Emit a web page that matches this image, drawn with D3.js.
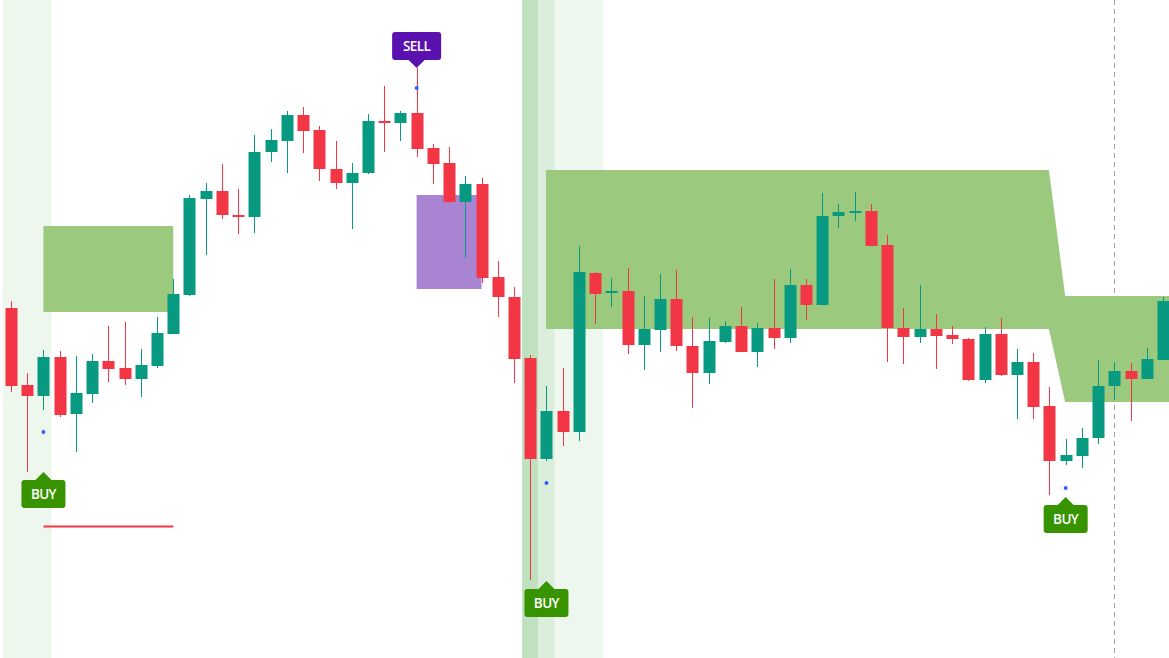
<!DOCTYPE html>
<html><head><meta charset="utf-8">
<script src="https://cdn.jsdelivr.net/npm/d3@7"></script>
<style>html,body{margin:0;padding:0;background:#fff;overflow:hidden}svg{display:block}</style>
</head><body>
<svg id="c" width="1169" height="658"></svg>
<script>
// Candle data (index, open, high, low, close)
const opens  = [692,615,604,643,586,606,639,632,621,634,666,705,801,809,785,783,848,859,885,870,831,817,827,879,877,887,852,837,798,816,723,703,642,541,589,568,727,707,709,655,670,701,654,627,658,674,648,672,662,715,695,784,787,789,755,672,663,671,665,661,620,666,625,638,594,539,544,562,614,629,621,640];
const highs  = [699,627,650,649,644,646,674,678,651,683,721,805,817,836,811,865,871,889,893,874,859,837,886,914,889,932,856,853,824,822,739,713,645,614,632,754,728,722,732,704,726,730,683,682,679,693,677,721,731,721,807,796,808,796,765,692,715,686,674,662,673,682,651,647,613,561,572,640,638,637,652,703];
const lows   = [608,528,590,583,548,597,618,615,603,632,666,704,745,781,766,767,838,827,847,819,811,771,826,848,859,843,816,797,742,717,683,617,420,539,554,559,676,693,646,630,648,649,592,616,657,648,633,651,657,680,695,772,779,754,638,636,657,631,656,619,617,624,581,581,505,535,532,556,600,579,621,640];
const closes = [614,604,643,585,607,639,631,621,635,667,706,802,809,785,783,848,860,885,869,831,817,827,879,878,887,851,836,798,816,722,703,641,541,589,568,728,706,709,655,671,701,654,627,659,674,648,672,662,715,695,784,788,789,754,672,663,671,664,661,620,666,625,638,593,539,545,562,614,629,621,641,699];

// Supply/demand zone (per candle index)
const zoneIdx    = [33,34,35,36,37,38,39,40,41,42,43,44,45,46,47,48,49,50,51,52,53,54,55,56,57,58,59,60,61,62,63,64,65,66,67,68,69,70,71,72];
const zoneTop    = [830,830,830,830,830,830,830,830,830,830,830,830,830,830,830,830,830,830,830,830,830,830,830,830,830,830,830,830,830,830,830,830,704,704,704,704,704,704,704,704];
const zoneBottom = [671,671,671,671,671,671,671,671,671,671,671,671,671,671,671,671,671,671,671,671,671,671,671,671,671,671,671,671,671,671,671,671,598,598,598,598,598,598,598,598];

// Boxes: [startIdx, endIdx, top, bottom]
const greenBox  = [2, 10, 774, 688];
const purpleBox = [25, 29, 805, 711];
// Horizontal level line: [startIdx, endIdx, price]
const redLevel  = [2, 10, 474];

// Background highlight bands: [fromIdx, toIdx, kind]
const bandFrom = [-0.5, 31.5, 31.5, 32.5];
const bandTo   = [2.5, 36.5, 32.5, 33.5];
const bandKind = ["light","light","dark","mid"];

// Signals
const sigIdx   = [2, 25, 33, 65];
const sigText  = ["BUY","SELL","BUY","BUY"];
const sigDot   = [568, 912, 517, 512];
const sigTip   = [528, 932, 419, 503];

// Dashed vertical marker index
const cursorIdx = 68;

const W = 1169, H = 658;
const svg = d3.select("#c");
const x = d3.scaleLinear().domain([0, 71]).range([11, 1163]);
const y = d3.scaleLinear().domain([342, 1000]).range([H, 0]);
const bodyW = 12;

const UP = "#089981", DOWN = "#f23645";
const bandColor = {light:"#edf7ee", dark:"#bfe1c0", mid:"#daeedb"};

// bands
svg.append("g").selectAll("rect").data(bandFrom.map((f,i)=>({f, t:bandTo[i], k:bandKind[i]})))
  .join("rect")
  .attr("x", d=>x(d.f)).attr("width", d=>x(d.t)-x(d.f))
  .attr("y", 0).attr("height", H)
  .attr("fill", d=>bandColor[d.k]);

// dashed cursor line
svg.append("line")
  .attr("x1", Math.round(x(cursorIdx))+0.5).attr("x2", Math.round(x(cursorIdx))+0.5)
  .attr("y1", 0).attr("y2", H)
  .attr("stroke", "#9e9e9e").attr("stroke-width", 1).attr("stroke-dasharray", "5,4");

// green box
svg.append("rect")
  .attr("x", x(greenBox[0])).attr("width", x(greenBox[1]) - x(greenBox[0]))
  .attr("y", y(greenBox[2])).attr("height", y(greenBox[3]) - y(greenBox[2]))
  .attr("fill", "#9bca7f");

// zone area
const zoneData = zoneIdx.map((d,i)=>({i:d, t:zoneTop[i], b:zoneBottom[i]}));
svg.append("path").datum(zoneData)
  .attr("d", d3.area().x(d=>x(d.i)-0.5).y0(d=>y(d.b)).y1(d=>y(d.t)))
  .attr("fill", "#9bca7f");

// purple box
svg.append("rect")
  .attr("x", x(purpleBox[0])).attr("width", x(purpleBox[1]) - x(purpleBox[0]))
  .attr("y", y(purpleBox[2])).attr("height", y(purpleBox[3]) - y(purpleBox[2]))
  .attr("fill", "#a884d2");

// red level
svg.append("line")
  .attr("x1", x(redLevel[0])).attr("x2", x(redLevel[1]))
  .attr("y1", Math.round(y(redLevel[2]))+0.5).attr("y2", Math.round(y(redLevel[2]))+0.5)
  .attr("stroke", DOWN).attr("stroke-width", 2);

// candles
const candles = opens.map((o,i)=>({i, o, h:highs[i], l:lows[i], c:closes[i]}));
const cg = svg.append("g").selectAll("g").data(candles).join("g");
cg.append("line")
  .attr("x1", d=>Math.round(x(d.i))+0.5).attr("x2", d=>Math.round(x(d.i))+0.5)
  .attr("y1", d=>y(d.h)).attr("y2", d=>y(d.l))
  .attr("stroke", d=>d.c>=d.o?UP:DOWN).attr("stroke-width", 1);
cg.append("rect")
  .attr("x", d=>Math.round(x(d.i)) - bodyW/2 + 0.5).attr("width", bodyW)
  .attr("y", d=>y(Math.max(d.o,d.c)))
  .attr("height", d=>Math.max(2, y(Math.min(d.o,d.c)) - y(Math.max(d.o,d.c))))
  .attr("fill", d=>d.c>=d.o?UP:DOWN);

// signal dots
const sigs = sigIdx.map((d,i)=>({i:d, t:sigText[i], dot:sigDot[i], tip:sigTip[i]}));
svg.append("g").selectAll("circle").data(sigs).join("circle")
  .attr("cx", d=>x(d.i)).attr("cy", d=>y(d.dot)).attr("r", 2)
  .attr("fill", "#2962ff");

// labels
const lg = svg.append("g").selectAll("g").data(sigs).join("g")
  .attr("transform", d=>`translate(${x(d.i)},${y(d.tip)})`);
function labelPath(w, h, ar, up){
  const r = 3, hw = w/2;
  if (up) {
    const t = ar, b = ar + h;
    return `M0,0 L${ar},${t} L${hw-r},${t} Q${hw},${t} ${hw},${t+r} L${hw},${b-r} Q${hw},${b} ${hw-r},${b} L${-hw+r},${b} Q${-hw},${b} ${-hw},${b-r} L${-hw},${t+r} Q${-hw},${t} ${-hw+r},${t} L${-ar},${t} Z`;
  } else {
    const b = -ar, t = -ar - h;
    return `M0,0 L${ar},${b} L${hw-r},${b} Q${hw},${b} ${hw},${b-r} L${hw},${t+r} Q${hw},${t} ${hw-r},${t} L${-hw+r},${t} Q${-hw},${t} ${-hw},${t+r} L${-hw},${b-r} Q${-hw},${b} ${-hw+r},${b} L${-ar},${b} Z`;
  }
}
lg.append("path")
  .attr("d", d=> d.t==="BUY" ? labelPath(44, 28, 8, true) : labelPath(49, 28, 8, false))
  .attr("fill", d=> d.t==="BUY" ? "#379400" : "#5b10b0");
lg.append("text")
  .attr("x", 0).attr("y", d=> d.t==="BUY" ? 8+14 : -8-14)
  .attr("dy", "0.36em")
  .attr("text-anchor", "middle")
  .attr("fill", "#fff")
  .attr("font-family", "'Open Sans', 'Noto Sans', sans-serif")
  .attr("font-weight", 600)
  .attr("font-size", 13.5)
  .attr("letter-spacing", "-0.6")
  .text(d=>d.t);
</script>
</body></html>
